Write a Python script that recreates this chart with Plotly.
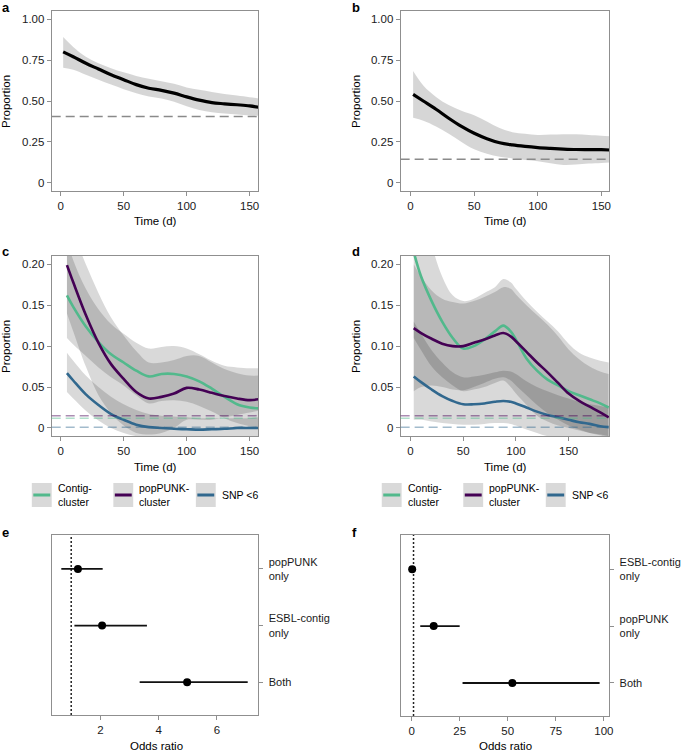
import plotly.graph_objects as go

W, H = 685, 751
FONT = "Liberation Sans, Arial, Helvetica, sans-serif"

# ---------------- data ----------------
# panel a
a_time = [2, 10, 20, 30, 40, 50, 60, 70, 80, 90, 100, 110, 120, 130, 140, 150, 157]
a_prop = [0.80, 0.77, 0.73, 0.695, 0.66, 0.63, 0.60, 0.578, 0.565, 0.548, 0.525, 0.505, 0.49, 0.483, 0.477, 0.47, 0.462]
a_lo = [0.703, 0.69, 0.66, 0.63, 0.60, 0.572, 0.548, 0.528, 0.515, 0.495, 0.468, 0.445, 0.432, 0.423, 0.417, 0.412, 0.41]
a_hi = [0.89, 0.83, 0.77, 0.73, 0.70, 0.675, 0.653, 0.635, 0.62, 0.605, 0.583, 0.568, 0.555, 0.543, 0.533, 0.523, 0.516]
a_base = 0.405

# panel b
b_time = [2, 10, 20, 30, 40, 50, 60, 70, 80, 90, 100, 110, 120, 130, 140, 150, 157]
b_prop = [0.54, 0.50, 0.45, 0.395, 0.345, 0.303, 0.27, 0.245, 0.232, 0.223, 0.216, 0.211, 0.207, 0.204, 0.203, 0.203, 0.201]
b_lo = [0.398, 0.38, 0.345, 0.30, 0.25, 0.205, 0.178, 0.16, 0.15, 0.14, 0.133, 0.12, 0.11, 0.112, 0.118, 0.122, 0.125]
b_hi = [0.683, 0.595, 0.525, 0.475, 0.44, 0.413, 0.375, 0.335, 0.31, 0.30, 0.293, 0.295, 0.297, 0.297, 0.292, 0.288, 0.285]
b_base = 0.144

# panel c
c_time = [5, 10, 20, 30, 40, 50, 60, 70, 80, 90, 100, 110, 120, 130, 140, 150, 157]
c_contig = [0.162, 0.148, 0.124, 0.105, 0.09, 0.08, 0.07, 0.063, 0.066, 0.066, 0.063, 0.057, 0.048, 0.038, 0.029, 0.025, 0.024]
c_contig_lo = [0.11, 0.102, 0.088, 0.074, 0.062, 0.052, 0.04, 0.03, 0.033, 0.034, 0.032, 0.027, 0.02, 0.012, 0.006, 0.002, 0.0]
c_contig_hi = [0.23, 0.205, 0.17, 0.145, 0.127, 0.115, 0.104, 0.097, 0.099, 0.10, 0.097, 0.09, 0.082, 0.076, 0.074, 0.073, 0.073]
c_pop = [0.199, 0.178, 0.138, 0.104, 0.078, 0.06, 0.044, 0.036, 0.038, 0.042, 0.049, 0.047, 0.043, 0.039, 0.036, 0.034, 0.035]
c_pop_lo = [0.14, 0.118, 0.075, 0.04, 0.018, 0.003, -0.006, -0.008, -0.006, 0.0, 0.01, 0.01, 0.01, 0.013, 0.016, 0.019, 0.021]
c_pop_hi = [0.27, 0.24, 0.20, 0.165, 0.135, 0.113, 0.094, 0.08, 0.08, 0.083, 0.088, 0.088, 0.08, 0.072, 0.067, 0.064, 0.064]
c_snp = [0.067, 0.058, 0.041, 0.028, 0.017, 0.01, 0.004, 0.001, 0.0, -0.001, -0.0015, -0.002, -0.0015, -0.001, 0.0, 0.0, 0.0]
c_snp_lo = [0.044, 0.036, 0.021, 0.009, 0.0, -0.006, -0.01, -0.012, -0.013, -0.013, -0.013, -0.013, -0.013, -0.013, -0.013, -0.013, -0.013]
c_snp_hi = [0.092, 0.082, 0.064, 0.05, 0.038, 0.029, 0.022, 0.017, 0.015, 0.014, 0.013, 0.012, 0.012, 0.012, 0.012, 0.012, 0.013]
c_base = {"contig": 0.012, "pop": 0.015, "snp": 0.001}

# panel d
d_time = [3, 10, 20, 30, 40, 50, 60, 70, 80, 88, 95, 100, 110, 120, 130, 140, 150, 160, 170, 180, 188]
d_contig = [0.215, 0.185, 0.155, 0.13, 0.11, 0.097, 0.10, 0.108, 0.118, 0.125, 0.118, 0.108, 0.085, 0.07, 0.059, 0.052, 0.045, 0.04, 0.035, 0.03, 0.025]
d_contig_lo = [0.11, 0.095, 0.075, 0.062, 0.052, 0.045, 0.047, 0.05, 0.055, 0.058, 0.05, 0.042, 0.028, 0.015, 0.008, 0.003, 0.0, -0.003, -0.006, -0.008, -0.01]
d_contig_hi = [0.35, 0.29, 0.225, 0.185, 0.162, 0.155, 0.158, 0.165, 0.172, 0.182, 0.178, 0.17, 0.155, 0.142, 0.13, 0.118, 0.103, 0.092, 0.086, 0.082, 0.08]
d_pop = [0.122, 0.116, 0.109, 0.103, 0.10, 0.10, 0.104, 0.108, 0.113, 0.116, 0.112, 0.106, 0.093, 0.08, 0.068, 0.055, 0.042, 0.033, 0.026, 0.019, 0.013]
d_pop_lo = [0.045, 0.05, 0.052, 0.05, 0.047, 0.046, 0.05, 0.055, 0.06, 0.062, 0.058, 0.052, 0.04, 0.028, 0.018, 0.01, 0.003, -0.002, -0.006, -0.009, -0.012]
d_pop_hi = [0.20, 0.185, 0.168, 0.158, 0.154, 0.152, 0.155, 0.16, 0.166, 0.172, 0.17, 0.163, 0.15, 0.138, 0.126, 0.112, 0.096, 0.084, 0.075, 0.069, 0.066]
d_snp = [0.063, 0.056, 0.047, 0.039, 0.033, 0.029, 0.029, 0.03, 0.032, 0.033, 0.032, 0.03, 0.025, 0.02, 0.016, 0.013, 0.01, 0.007, 0.005, 0.002, 0.001]
d_snp_lo = [0.01, 0.01, 0.008, 0.006, 0.005, 0.004, 0.004, 0.005, 0.006, 0.006, 0.005, 0.003, -0.002, -0.006, -0.01, -0.012, -0.015, -0.017, -0.02, -0.022, -0.025]
d_snp_hi = [0.13, 0.115, 0.095, 0.08, 0.068, 0.062, 0.063, 0.065, 0.068, 0.07, 0.069, 0.066, 0.057, 0.05, 0.045, 0.04, 0.036, 0.032, 0.029, 0.027, 0.025]
d_base = {"contig": 0.012, "pop": 0.015, "snp": 0.001}

# panel e
e_labels = ["popPUNK<br>only", "ESBL-contig<br>only", "Both"]
e_or = [1.23, 2.06, 4.98]
e_lo = [0.66, 1.11, 3.35]
e_hi = [2.08, 3.60, 7.06]

# panel f
f_labels = ["ESBL-contig<br>only", "popPUNK<br>only", "Both"]
f_or = [0.3, 11.5, 52.4]
f_lo = [0.1, 4.5, 26.5]
f_hi = [0.6, 25.0, 97.8]

null_or = 1

legend_names = ["Contig-<br>cluster", "popPUNK-<br>cluster", "SNP <6"]

# ---------------- styles ----------------
GREEN = "#52B98C"
PURPLE = "#440154"
BLUE = "#31688E"
BAND = "rgba(0,0,0,0.15)"
BORDER = "#8f8f8f"

fig = go.Figure()


def band(x, lo, hi, xa, ya, color=BAND):
    fig.add_trace(go.Scatter(x=x, y=lo, mode="lines", line=dict(width=0, shape="spline"),
                             hoverinfo="skip", showlegend=False, xaxis=xa, yaxis=ya))
    fig.add_trace(go.Scatter(x=x, y=hi, mode="lines", line=dict(width=0, shape="spline"),
                             fill="tonexty", fillcolor=color,
                             hoverinfo="skip", showlegend=False, xaxis=xa, yaxis=ya))


def curve(x, y, xa, ya, color, width=3):
    fig.add_trace(go.Scatter(x=x, y=y, mode="lines", line=dict(color=color, width=width, shape="spline"),
                             hoverinfo="skip", showlegend=False, xaxis=xa, yaxis=ya))


def hline(y, xa, ya, color, dash="9px,5px", width=1.5):
    fig.add_shape(type="line", xref=f"{xa} domain", x0=0, x1=1, yref=ya, y0=y, y1=y,
                  line=dict(color=color, width=width, dash=dash), layer="above")


# a
band(a_time, a_lo, a_hi, "x", "y", "rgba(0,0,0,0.16)")
hline(a_base, "x", "y", "#8a8a8a")
curve(a_time, a_prop, "x", "y", "#000000", 3.2)
# b
band(b_time, b_lo, b_hi, "x2", "y2", "rgba(0,0,0,0.16)")
hline(b_base, "x2", "y2", "#8a8a8a")
curve(b_time, b_prop, "x2", "y2", "#000000", 3.2)

# c
band(c_time, c_contig_lo, c_contig_hi, "x3", "y3")
band(c_time, c_pop_lo, c_pop_hi, "x3", "y3")
band(c_time, c_snp_lo, c_snp_hi, "x3", "y3")
hline(c_base["pop"], "x3", "y3", "rgba(68,1,84,0.45)")
hline(c_base["contig"], "x3", "y3", "rgba(82,185,140,0.45)")
hline(c_base["snp"], "x3", "y3", "rgba(49,104,142,0.45)")
curve(c_time, c_contig, "x3", "y3", GREEN, 2.6)
curve(c_time, c_pop, "x3", "y3", PURPLE, 2.6)
curve(c_time, c_snp, "x3", "y3", BLUE, 2.6)

# d
band(d_time, d_contig_lo, d_contig_hi, "x4", "y4")
band(d_time, d_pop_lo, d_pop_hi, "x4", "y4")
band(d_time, d_snp_lo, d_snp_hi, "x4", "y4")
hline(d_base["pop"], "x4", "y4", "rgba(68,1,84,0.45)")
hline(d_base["contig"], "x4", "y4", "rgba(82,185,140,0.45)")
hline(d_base["snp"], "x4", "y4", "rgba(49,104,142,0.45)")
curve(d_time, d_contig, "x4", "y4", GREEN, 2.6)
curve(d_time, d_pop, "x4", "y4", PURPLE, 2.6)
curve(d_time, d_snp, "x4", "y4", BLUE, 2.6)


# e, f
def forest(ors, lo, hi, labels, xa, ya):
    fig.add_shape(type="line", xref=xa, x0=null_or, x1=null_or, yref=f"{ya} domain", y0=0, y1=1,
                  line=dict(color="#222222", width=1.5, dash="2px,2px"), layer="below")
    fig.add_trace(go.Scatter(
        x=ors, y=labels, mode="markers",
        marker=dict(color="#000000", size=8),
        error_x=dict(type="data", symmetric=False,
                     array=[h - o for h, o in zip(hi, ors)],
                     arrayminus=[o - l for o, l in zip(ors, lo)],
                     color="#111111", thickness=1.8, width=0),
        hoverinfo="skip", showlegend=False, xaxis=xa, yaxis=ya))


forest(e_or, e_lo, e_hi, e_labels, "x5", "y5")
forest(f_or, f_lo, f_hi, f_labels, "x6", "y6")


# ---------------- axes ----------------
def px(x):
    return x / W


def py(y):
    return 1 - y / H


def axis(domain, anchor, rng=None, **kw):
    d = dict(domain=domain, anchor=anchor, showline=True, mirror=True, linecolor=BORDER, linewidth=1,
             ticks="outside", ticklen=4, tickwidth=1, tickcolor=BORDER, showgrid=False, zeroline=False,
             tickfont=dict(family=FONT, size=11.5, color="#1a1a1a"), fixedrange=True)
    if rng is not None:
        d["range"] = rng
    d.update(kw)
    return d


XL = [px(52), px(260)]
XR = [px(403), px(613)]
Y_AB = [py(191), py(11)]
Y_CD = [py(436), py(256)]
Y_EF = [py(715), py(535)]

prop_ticks = dict(tickvals=[0, 0.25, 0.5, 0.75, 1.0], ticktext=["0", "0.25", "0.50", "0.75", "1.00"])
small_ticks = dict(tickvals=[0, 0.05, 0.10, 0.15, 0.20], ticktext=["0", "0.05", "0.10", "0.15", "0.20"])
time_ticks = dict(tickvals=[0, 50, 100, 150])
cat_font = dict(family=FONT, size=11, color="#1a1a1a")

fig.update_layout(
    xaxis=axis(XL, "y", [-7.1, 157], **time_ticks),
    yaxis=axis(Y_AB, "x", [-0.049, 1.049], **prop_ticks),
    xaxis2=axis(XR, "y2", [-7.8, 156.3], **time_ticks),
    yaxis2=axis(Y_AB, "x2", [-0.049, 1.049], **prop_ticks),
    xaxis3=axis(XL, "y3", [-7.1, 157], **time_ticks),
    yaxis3=axis(Y_CD, "x3", [-0.0098, 0.2101], **small_ticks),
    xaxis4=axis(XR, "y4", [-9.4, 188.7], **time_ticks),
    yaxis4=axis(Y_CD, "x4", [-0.0098, 0.2101], **small_ticks),
    xaxis5=axis(XL, "y5", [0.33, 7.43], tickvals=[2, 4, 6]),
    yaxis5=axis(Y_EF, "x5", [-0.58, 2.6], type="category", side="right",
                categoryorder="array", categoryarray=e_labels[::-1],
                tickfont=cat_font, ticklabelstandoff=3),
    xaxis6=axis(XR, "y6", [-5.7, 102.9], tickvals=[0, 25, 50, 75, 100]),
    yaxis6=axis([py(716), py(535)], "x6", [-0.58, 2.6], type="category", side="right",
                categoryorder="array", categoryarray=f_labels[::-1],
                tickfont=cat_font, ticklabelstandoff=3),
)

# ---------------- annotations ----------------
ann = []


def text(x, y, t, size=11.5, bold=False, angle=0, xanchor="center", yanchor="middle", align="center"):
    ann.append(dict(x=px(x), y=py(y), xref="paper", yref="paper", text=f"<b>{t}</b>" if bold else t,
                    showarrow=False, textangle=angle, xanchor=xanchor, yanchor=yanchor, align=align,
                    font=dict(family=FONT, size=size, color="#000000")))


for lab, x, y in [("a", 0, 8), ("b", 352, 8), ("c", 0, 252), ("d", 352, 251), ("e", 0, 532), ("f", 352, 532)]:
    text(x, y, lab, size=13, bold=True, xanchor="left")

for x, y in [(6, 101), (358, 101), (6, 346), (358, 346)]:
    text(x, y, "Proportion", angle=-90)
for x, y in [(156, 221), (508, 221), (156, 467), (508, 467)]:
    text(x, y, "Time (d)")
for x, y in [(157, 746), (508, 746)]:
    text(x, y, "Odds ratio")

# legends below c and d
shapes = []
key_x = [32, 114, 197]
key_colors = [GREEN, PURPLE, BLUE]
for off in (0, 352):
    for kx, col, name in zip(key_x, key_colors, legend_names):
        x0 = kx + off
        shapes.append(dict(type="rect", xref="paper", yref="paper", x0=px(x0), x1=px(x0 + 20),
                           y0=py(507), y1=py(483), fillcolor="#d9d9d9", line=dict(width=0)))
        shapes.append(dict(type="line", xref="paper", yref="paper", x0=px(x0 + 1.5), x1=px(x0 + 18.5),
                           y0=py(495), y1=py(495), line=dict(color=col, width=3)))
        text(x0 + 24, 495, name, size=10.5, xanchor="left", align="left")

for s in shapes:
    fig.add_shape(**s)

fig.update_layout(
    annotations=ann,
    width=W, height=H, autosize=False,
    margin=dict(l=0, r=0, t=0, b=0),
    paper_bgcolor="white", plot_bgcolor="white",
    font=dict(family=FONT, size=11.5, color="#1a1a1a"),
    showlegend=False,
)

fig.write_html("out.html", config={"displayModeBar": False},
               post_script="document.body.style.margin='0';document.body.style.overflow='hidden';")
